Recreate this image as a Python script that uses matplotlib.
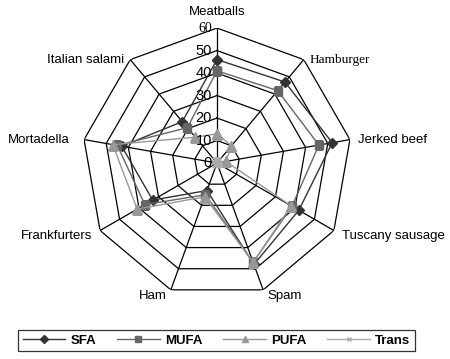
import numpy as np
import matplotlib
matplotlib.use("Agg")
import matplotlib.pyplot as plt
from matplotlib.transforms import offset_copy
from matplotlib.lines import Line2D

categories = ["Meatballs", "Hamburger", "Jerked beef", "Tuscany sausage", "Spam",
              "Ham", "Frankfurters", "Mortadella", "Italian salami"]
sfa = [46, 47, 52, 42, 48, 13, 33, 43, 24]
mufa = [41, 42, 46, 38.5, 47, 15, 37, 45, 20.5]
pufa = [13, 10, 4, 38, 47, 16, 41, 47, 15]
trans = [1.5, 1.5, 1, 1, 1, 1, 1, 1.5, 1.5]
ticks = [0, 10, 20, 30, 40, 50, 60]
series_names = ["SFA", "MUFA", "PUFA", "Trans"]

fig = plt.figure(figsize=(4.5, 3.59), dpi=100)
ax = fig.add_axes([0.1822, 0.1699, 0.6, 0.752], projection="polar")
ax.set_theta_offset(np.pi / 2)
ax.set_theta_direction(-1)
ax.set_ylim(0, 60)
ax.grid(False)
ax.spines["polar"].set_visible(False)
ax.set_xticks([])
ax.set_yticks([])
ax.patch.set_visible(False)

n = len(categories)
angles = np.linspace(0, 2 * np.pi, n, endpoint=False)
closed = np.concatenate([angles, angles[:1]])

for r in ticks[1:]:
    ax.plot(closed, [r] * (n + 1), color="black", lw=0.9, zorder=1)
for a in angles:
    ax.plot([a, a], [0, 60], color="black", lw=0.9, zorder=1)

styles = [
    dict(color="#333333", marker="D", ms=5.5, lw=1.0),
    dict(color="#666666", marker="s", ms=6, lw=1.0),
    dict(color="#999999", marker="^", ms=7, lw=1.0),
    dict(color="#aaaaaa", marker="x", ms=5, lw=1.0),
]
for vals, st, name in zip([sfa, mufa, pufa, trans], styles, series_names):
    v = list(vals) + [vals[0]]
    ax.plot(closed, v, color=st["color"], lw=st["lw"], marker=st["marker"],
            ms=st["ms"], mfc=st["color"], mec=st["color"], label=name, zorder=3)

# radial tick labels
tr = offset_copy(ax.transData, fig=fig, x=-5, y=0, units="dots")
for t in ticks:
    fam = "Liberation Serif" if t == 60 else "Liberation Sans"
    ax.text(0, t, str(t), transform=tr, ha="right", va="center",
            fontsize=10.5 if t != 60 else 10, family=fam, color="black")

# category labels
label_cfg = {
    "Meatballs": ("center", "bottom", 0, 10),
    "Hamburger": ("left", "center", 6, 0),
    "Jerked beef": ("left", "center", 8, 0),
    "Tuscany sausage": ("left", "center", 8, -5),
    "Spam": ("left", "top", 4, 0),
    "Ham": ("right", "top", -4, 0),
    "Frankfurters": ("right", "center", -8, -5),
    "Mortadella": ("right", "center", -14, 0),
    "Italian salami": ("right", "center", -6, 0),
}
for a, c in zip(angles, categories):
    ha, va, dx, dy = label_cfg[c]
    trc = offset_copy(ax.transData, fig=fig, x=dx, y=dy, units="dots")
    fam = "Liberation Serif" if c == "Hamburger" else "Liberation Sans"
    ax.text(a, 60, c, transform=trc, ha=ha, va=va, fontsize=9.5, family=fam)

handles = [Line2D([0], [0], color=st["color"], lw=1.0, marker=st["marker"],
                  ms=st["ms"] * 0.7, mfc=st["color"], mec=st["color"]) for st in styles]
leg = fig.legend(handles, series_names, loc="center", bbox_to_anchor=(216.5 / 450, 1 - 340.5 / 359),
                 ncol=4, frameon=True, fancybox=False, edgecolor="black",
                 prop=dict(family="Liberation Sans", weight="bold", size=9.5),
                 handlelength=3.2, columnspacing=1.6, handletextpad=0.4,
                 borderpad=0.35, borderaxespad=0)
leg.get_frame().set_linewidth(0.9)

fig.savefig("out.png", dpi=100)
